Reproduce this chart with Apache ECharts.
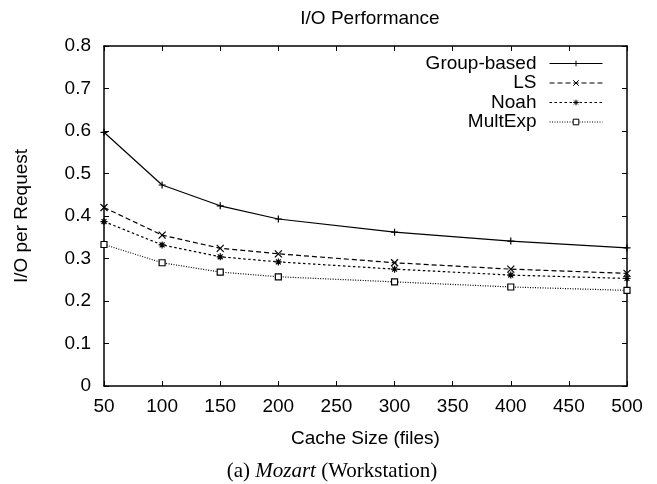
<!DOCTYPE html>
<html>
<head>
<meta charset="utf-8">
<title>I/O Performance</title>
<script src="https://cdn.jsdelivr.net/npm/echarts@6/dist/echarts.min.js"></script>
<style>
  html, body { margin: 0; padding: 0; background: #fff; }
  #chart { width: 657px; height: 484px; }
</style>
</head>
<body>
<div id="chart"></div>
<script>
// cache sizes (files)
const cacheSizes = [50, 100, 150, 200, 300, 400, 500]
// I/O per request
const groupBased = [0.597, 0.473, 0.424, 0.393, 0.362, 0.341, 0.325]
const ls = [0.420, 0.355, 0.324, 0.311, 0.290, 0.275, 0.265]
const noah = [0.387, 0.332, 0.304, 0.292, 0.275, 0.261, 0.253]
const multExp = [0.333, 0.290, 0.268, 0.257, 0.245, 0.233, 0.225]

const font = '"Liberation Sans", Arial, sans-serif'
const serif = '"Liberation Serif", "Times New Roman", serif'
const fontSize = 19

const toPairs = ys => cacheSizes.map((x, i) => [x, ys[i]])

// gnuplot style point markers
const plusPath = 'path://M0,5L10,5M5,0L5,10'
const crossPath = 'path://M0,0L10,10M10,0L0,10'
const starPath = 'path://M0,5L10,5M5,0L5,10M1.5,1.5L8.5,8.5M8.5,1.5L1.5,8.5'

function lineSeries(name, ys, symbol, size, dash, fill) {
  return {
    name,
    type: 'line',
    data: toPairs(ys),
    symbol,
    symbolSize: size,
    showSymbol: true,
    animation: false,
    lineStyle: { color: '#000', width: 1.2, type: dash },
    itemStyle: { color: fill, borderColor: '#000', borderWidth: 1.2 },
    emphasis: { disabled: true },
  }
}

const axisCommon = {
  axisLine: { show: true, onZero: false, lineStyle: { color: '#000', width: 1.5 } },
  axisTick: { show: true, inside: true, length: 5, lineStyle: { color: '#000', width: 1 } },
  splitLine: { show: false },
}

const option = {
  backgroundColor: '#fff',
  textStyle: { fontFamily: font },
  title: [
    {
      text: 'I/O Performance',
      left: 365,
      top: 4,
      textAlign: 'center',
      textStyle: { fontFamily: font, fontSize, fontWeight: 'normal', color: '#000' },
    },
    {
      text: '(a) {i|Mozart} (Workstation)',
      left: 327,
      top: 456,
      textAlign: 'center',
      textStyle: {
        fontFamily: serif,
        fontSize: 21,
        fontWeight: 'normal',
        color: '#000',
        rich: {
          i: { fontFamily: serif, fontSize: 21, fontStyle: 'italic', color: '#000' },
        },
      },
    },
  ],
  legend: {
    orient: 'vertical',
    right: 49,
    top: 49,
    align: 'right',
    itemWidth: 53,
    itemHeight: 7,
    itemGap: 0.5,
    selectedMode: false,
    lineStyle: { width: 1 },
    itemStyle: { borderWidth: 1 },
    textStyle: { fontFamily: font, fontSize, color: '#000', padding: [0, 8, 0, 0] },
    data: ['Group-based', 'LS', 'Noah', 'MultExp'],
  },
  grid: {
    left: 104,
    right: 30,
    top: 46,
    bottom: 98,
  },
  xAxis: [
    {
      ...axisCommon,
      type: 'value',
      min: 50,
      max: 500,
      interval: 50,
      name: 'Cache Size (files)',
      nameLocation: 'middle',
      nameGap: 43,
      nameTextStyle: { fontFamily: font, fontSize, color: '#000' },
      axisLabel: { fontFamily: font, fontSize, color: '#000', margin: 11 },
    },
    {
      ...axisCommon,
      type: 'value',
      position: 'top',
      min: 50,
      max: 500,
      interval: 50,
      axisLabel: { show: false },
    },
  ],
  yAxis: [
    {
      ...axisCommon,
      type: 'value',
      min: 0,
      max: 0.8,
      interval: 0.1,
      name: 'I/O per Request',
      nameLocation: 'middle',
      nameGap: 73,
      nameTextStyle: { fontFamily: font, fontSize, color: '#000' },
      axisLabel: { fontFamily: font, fontSize, color: '#000', margin: 13 },
    },
    {
      ...axisCommon,
      type: 'value',
      position: 'right',
      min: 0,
      max: 0.8,
      interval: 0.1,
      axisLabel: { show: false },
    },
  ],
  series: [
    lineSeries('Group-based', groupBased, plusPath, 7, 'solid', '#000'),
    lineSeries('LS', ls, crossPath, 7, [5, 3], '#000'),
    lineSeries('Noah', noah, starPath, 7, [2.5, 2.5], '#000'),
    lineSeries('MultExp', multExp, 'rect', 6, [1, 1.5], '#fff'),
  ],
}

const myChart = echarts.init(document.getElementById('chart'))
myChart.setOption(option)
</script>
</body>
</html>
